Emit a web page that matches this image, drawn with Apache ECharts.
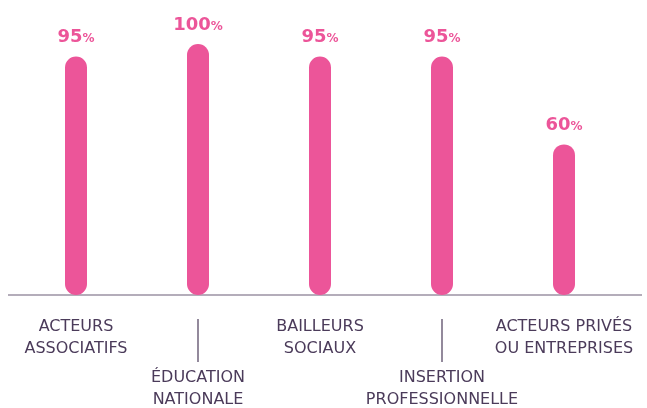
<!DOCTYPE html>
<html>
<head>
<meta charset="utf-8">
<script src="https://cdn.jsdelivr.net/npm/echarts@6/dist/echarts.min.js"></script>
<style>
  html, body { margin: 0; padding: 0; background: #fff; }
  #main { width: 647px; height: 408px; }
</style>
</head>
<body>
<div id="main"></div>
<script>
// catégories (lignes de libellé) et pourcentages
const categories = [
  ['ACTEURS', 'ASSOCIATIFS'],
  ['ÉDUCATION', 'NATIONALE'],
  ['BAILLEURS', 'SOCIAUX'],
  ['INSERTION', 'PROFESSIONNELLE'],
  ['ACTEURS PRIVÉS', 'OU ENTREPRISES']
]
const values = [95, 100, 95, 95, 60]

const pink = '#ec5599'
const dark = '#4b3b5a'
const font = 'DejaVu Sans'

let chart = echarts.init(document.getElementById('main'))

let option = {
  animation: false,
  grid: { left: 15, right: 22, top: 44, bottom: 112 },
  xAxis: {
    type: 'category',
    data: categories.map(c => c.join('\n')),
    axisLine: { show: false },
    axisTick: { show: false },
    axisLabel: {
      interval: 0,
      margin: 21,
      formatter: (val, i) => {
        let lines = val.split('\n').map(l => '{t|' + l + '}')
        if (i % 2 === 1) lines.unshift('{sp| }')
        return lines.join('\n')
      },
      rich: {
        t: { fontFamily: font, fontSize: 16, color: dark, lineHeight: 22, align: 'center' },
        sp: { fontSize: 10, lineHeight: 51 }
      }
    }
  },
  yAxis: {
    type: 'value',
    min: 0,
    max: 100,
    show: false
  },
  series: [{
    type: 'bar',
    data: values,
    barWidth: 22,
    itemStyle: { color: pink, borderRadius: 11 },
    label: {
      show: true,
      position: 'top',
      distance: 10,
      formatter: p => '{n|' + p.value + '}{p|%}',
      rich: {
        n: { fontFamily: font, fontSize: 18, fontWeight: 'bold', color: pink },
        p: { fontFamily: font, fontSize: 12, fontWeight: 'bold', color: pink, padding: [3, 0, 0, 0] }
      }
    }
  }]
}
chart.setOption(option)

// ligne de base et séparateurs verticaux sous les libellés décalés
let baseY = chart.convertToPixel({ yAxisIndex: 0 }, 0)
let graphics = [{
  type: 'line',
  shape: { x1: 8, y1: baseY, x2: 642, y2: baseY },
  style: { stroke: '#9b92a3', lineWidth: 1.5 },
  z: 0
}]
for (let i = 1; i < categories.length; i += 2) {
  let x = chart.convertToPixel({ xAxisIndex: 0 }, i)
  graphics.push({
    type: 'line',
    shape: { x1: x, y1: baseY + 24, x2: x, y2: baseY + 67 },
    style: { stroke: dark, lineWidth: 1.2 }
  })
}
chart.setOption({ graphic: graphics })
</script>
</body>
</html>
